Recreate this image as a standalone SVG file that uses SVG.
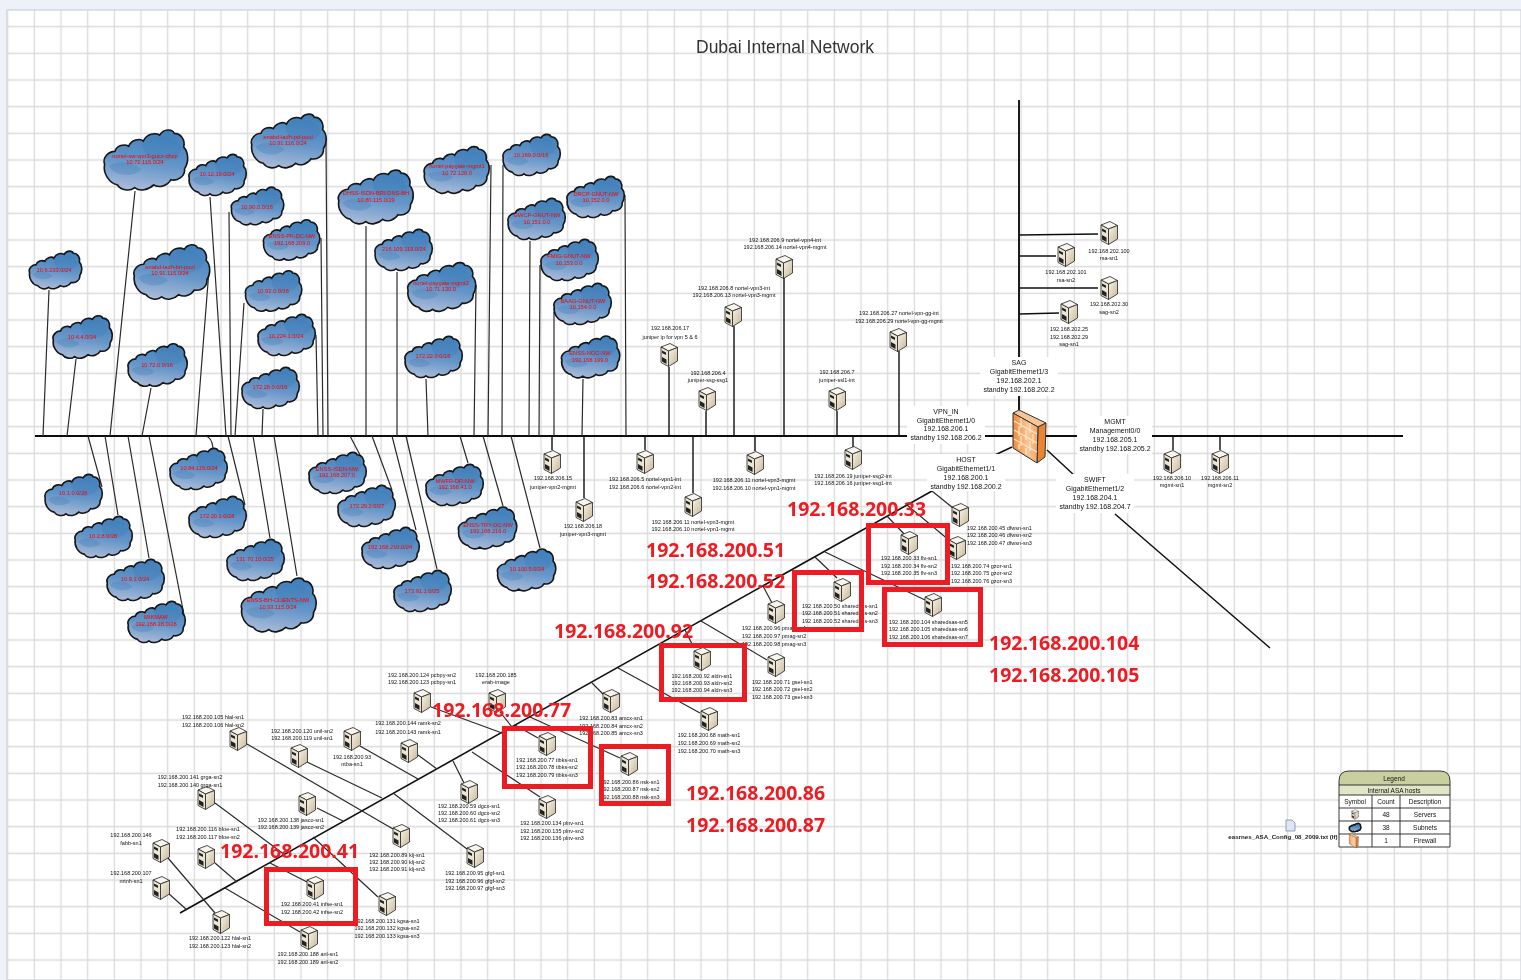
<svg xmlns="http://www.w3.org/2000/svg" width="1521" height="980" viewBox="0 0 1521 980">
<style>
text{font-family:"Liberation Sans",Arial,sans-serif}
.t{font-size:5.5px;fill:#111;text-anchor:middle}
.s{font-size:5.5px;fill:#111;text-anchor:start}
.c{font-size:5.7px;fill:#f00;text-anchor:middle}
.g{font-size:7px;fill:#111;text-anchor:middle}
.r{font-family:"Noto Sans","Open Sans",sans-serif;font-size:19.5px;font-weight:700;fill:#ed1c24}
.l{fill:none;stroke:#2b2b2b;stroke-width:1.2}
.b{fill:none;stroke:#111;stroke-width:1.9}
.x{fill:none;stroke:#ed1c24;stroke-width:5}
.w{fill:#fff}
.h{font-size:6.5px;fill:#111;text-anchor:middle}
.cl{fill:url(#cg);stroke:#151515;stroke-width:1.6;vector-effect:non-scaling-stroke}
</style>
<defs>
<pattern id="grid" x="-5.63" y="-13.33" width="26.667" height="26.667" patternUnits="userSpaceOnUse"><path d="M13.33 0V26.667M0 13.33H26.667" fill="none" stroke="#dadada" stroke-width="1.3"/></pattern>
<filter id="soft" x="0" y="0" width="100%" height="100%" filterUnits="userSpaceOnUse" primitiveUnits="userSpaceOnUse"><feGaussianBlur stdDeviation="0.38"/></filter>
<linearGradient id="cg" x1="0.6" y1="0" x2="0.4" y2="1"><stop offset="0" stop-color="#4080bb"/><stop offset="0.55" stop-color="#6596c9"/><stop offset="1" stop-color="#a8bad8"/></linearGradient>
<linearGradient id="sg" x1="0" y1="0" x2="1" y2="1"><stop offset="0" stop-color="#f8f3e8"/><stop offset="1" stop-color="#c6b798"/></linearGradient>
<linearGradient id="fg" x1="0" y1="0" x2="1" y2="0"><stop offset="0" stop-color="#f08a38"/><stop offset="0.6" stop-color="#f7c596"/><stop offset="1" stop-color="#f2a668"/></linearGradient>
<g id="c" transform="translate(-50,-37)">
<path class="cl" d="M3,42C0,34 8,27 15,27C17,20 26,18 31,21C34,14 44,11 48,15C52,6 62,5 67,8C72,0 82,1 84,6C92,6 97,14 95,22C101,28 101,40 96,47C97,56 88,62 80,60C76,67 66,70 60,66C54,72 44,74 38,69C32,74 22,72 18,66C8,64 1,52 3,42Z"/>
<path d="M48,16C54,8 80,4 92,22C94,36 70,42 56,36C50,30 46,24 48,16Z" fill="#3a7ab6" opacity=".3"/>
<path d="M8,44C20,36 38,40 46,48C36,58 14,56 8,44Z" fill="#3a7ab6" opacity=".3"/>
</g>
<g id="s">
<path d="M-8,-8L1,-11.5L8.5,-7.5L-0.5,-4Z" fill="#f8f5ec" stroke="#222" stroke-width=".8"/>
<path d="M-0.5,-4L8.5,-7.5V6L-0.5,11.5Z" fill="url(#sg)" stroke="#222" stroke-width=".8"/>
<path d="M-8,-8L-0.5,-4V11.5L-8,7.5Z" fill="#ece5d3" stroke="#222" stroke-width=".8"/>
<path d="M-7,-4.5L-3,-2.5V0L-7,-2ZM-7,2L-2.5,4.5V9L-7,6.5Z" fill="#222"/>
</g>
<g id="f">
<path d="M1013,413L1019,410L1046,423L1038,427Z" fill="#f7c596" stroke="#333"/>
<path d="M1038,427L1046,423L1045,457L1037,463Z" fill="#e88433" stroke="#333"/>
<path d="M1013,413L1038,427L1037,463L1013,448Z" fill="url(#fg)" stroke="#333"/>
<path d="M1014,421L1037,434M1014,430L1037,443M1014,439L1037,452M1021,418V428M1030,423V433M1019,426V436M1026,430V440M1033,434V444M1021,436V446M1030,441V451M1019,444V449M1026,448V455" fill="none" stroke="#fbe6cc" stroke-width="1.2"/>
</g>
</defs>
<g filter="url(#soft)">
<rect width="1521" height="980" fill="#eef1f8"/>
<rect x="7" y="10" width="1514" height="970" fill="#fff" stroke="#c4c8d0"/>
<rect x="7" y="10" width="1514" height="970" fill="url(#grid)"/>
<text x="785" y="53" font-size="17.5" fill="#333" text-anchor="middle">Dubai Internal Network</text>

<g id="connectors">
<path class="b" d="M35,436H1403"/>
<path class="b" d="M1019,100V410"/>
<path class="b" style="stroke-width:1.6" d="M180,913L932,491"/>
<path class="l" d="M49,290L43,436M76,359L67,436M135,191L110,436M151,388L142,436M209,270L196,436M210,197L226,436M229,212L231,436M326,140L328,436M321,238L323,436M244,303L235,436M316,335L318,436M263,409L262,436"/>
<path class="l" d="M366,226V436M491,165L488,436M397,272V436M476,285L474,436M426,379L428,436M503,165L502,436M530,241L529,436M625,195L626,436M540,265L539,436M554,312V436M583,379L582,436"/>
<path class="l" d="M88,436L102,487M105,436L118,515M128,436L149,558M149,436L185,620M196,436H205Q212,437 213,448M228,436L245,505M253,436L270,538M274,436L297,576"/>
<path class="l" d="M350,436L360,455M372,436L392,490M392,436L416,530M406,436L437,569M460,436L468,463M483,436L503,506M511,436L540,548"/>
<path class="b" style="stroke-width:1.4" d="M784,278V436M734,326V436M669,367V436M706,411V436M837,411V436M899,351V436M645,436V450M693,436V493M755,436V451M853,436V447M552,436V450M584,436V498M1019,235L1098,234M1019,256H1056M1019,288H1098M1019,314L1059,313M1173,436V450M1220,436V450"/>
<path class="b" style="stroke-width:1.5" d="M1012,447L995,455M1047,450L1075,476M1115,514L1270,648"/>
<path class="l" d="M932,491L953,508M907,505L950,541M887,516L905,535M815,557L837,578M825,552L925,600M763,586L772,603M701,621L767,660M685,630L692,644M618,668L700,713M592,683L604,695M431,707L502,733M500,712L512,727M530,717L620,758M515,725L538,738M472,752L540,797M453,761L464,783M418,755L437,769M360,746L418,779M307,762L382,798M247,744L393,829M393,793L467,849M313,837L378,897M317,808L343,821M215,803L285,855M215,863L237,882M168,858L215,913M168,893L187,910M270,863L307,882M225,888L300,932"/>
</g>

<g id="cloud-1"><use href="#c" transform="translate(55,270) scale(.54)"/><text class="c" x="54" y="272">10.6.233.0/24</text></g>
<g id="cloud-2"><use href="#c" transform="translate(82,337) scale(.61)"/><text class="c" x="82" y="339">10.4.4.0/24</text></g>
<g id="cloud-3"><use href="#c" transform="translate(145,160) scale(.86)"/><text class="c" x="145" y="158">nortel-sw-vpn3-gucz-dhcp</text><text class="c" x="145" y="164">10.72.115.0/24</text></g>
<g id="cloud-4"><use href="#c" transform="translate(157,365) scale(.61)"/><text class="c" x="157" y="367">10.72.0.0/16</text></g>
<g id="cloud-5"><use href="#c" transform="translate(171,272) scale(.78)"/><text class="c" x="170" y="269">enabd-ladh-bri-pool</text><text class="c" x="170" y="275">10.91.115.0/24</text></g>
<g id="cloud-6"><use href="#c" transform="translate(217,175) scale(.59)"/><text class="c" x="217" y="176">10.12.19.0/24</text></g>
<g id="cloud-7"><use href="#c" transform="translate(257,206) scale(.54)"/><text class="c" x="257" y="209">10.90.0.0/16</text></g>
<g id="cloud-8"><use href="#c" transform="translate(288,141) scale(.77)"/><text class="c" x="288" y="139">enabd-ladh-pd-pool</text><text class="c" x="288" y="145">10.91.116.0/24</text></g>
<g id="cloud-9"><use href="#c" transform="translate(291,240) scale(.58)"/><text class="c" x="292" y="238">ENSS-PK-DC-NW</text><text class="c" x="292" y="245">192.168.209.0</text></g>
<g id="cloud-10"><use href="#c" transform="translate(273,291) scale(.58)"/><text class="c" x="273" y="293">10.92.0.0/16</text></g>
<g id="cloud-11"><use href="#c" transform="translate(286,335) scale(.59)"/><text class="c" x="286" y="338">10.224.1.0/24</text></g>
<g id="cloud-12"><use href="#c" transform="translate(270,388) scale(.59)"/><text class="c" x="270" y="389">172.28.0.0/16</text></g>
<g id="cloud-13"><use href="#c" transform="translate(375,197) scale(.77)"/><text class="c" x="376" y="195">DHSS-ISDN-BRI-DNS-BH</text><text class="c" x="376" y="202">10.80.115.0/29</text></g>
<g id="cloud-14"><use href="#c" transform="translate(456,170) scale(.67)"/><text class="c" x="457" y="168">nortel-paygate-mgmt1</text><text class="c" x="457" y="175">10.72.128.0</text></g>
<g id="cloud-15"><use href="#c" transform="translate(403,250) scale(.59)"/><text class="c" x="404" y="251">216.109.119.0/24</text></g>
<g id="cloud-16"><use href="#c" transform="translate(441,287) scale(.7)"/><text class="c" x="441" y="285">nortel-paygate-mgmt2</text><text class="c" x="441" y="291">10.71.130.0</text></g>
<g id="cloud-17"><use href="#c" transform="translate(433,357) scale(.59)"/><text class="c" x="433" y="358">172.22.0.0/16</text></g>
<g id="cloud-18"><use href="#c" transform="translate(531,155) scale(.59)"/><text class="c" x="531" y="157">10.169.0.0/16</text></g>
<g id="cloud-19"><use href="#c" transform="translate(536,219) scale(.59)"/><text class="c" x="537" y="217">GWCP-GNUT-NW</text><text class="c" x="537" y="224">10.151.0.0</text></g>
<g id="cloud-20"><use href="#c" transform="translate(595,197) scale(.59)"/><text class="c" x="596" y="196">DRCP-GNUT-NW</text><text class="c" x="596" y="202">10.152.0.0</text></g>
<g id="cloud-21"><use href="#c" transform="translate(569,260) scale(.59)"/><text class="c" x="569" y="258">FMIG-GNUT-NW</text><text class="c" x="569" y="265">10.153.0.0</text></g>
<g id="cloud-22"><use href="#c" transform="translate(582,304) scale(.59)"/><text class="c" x="583" y="303">BAAG-GNUT-NW</text><text class="c" x="583" y="309">10.154.0.0</text></g>
<g id="cloud-23"><use href="#c" transform="translate(590,357) scale(.6)"/><text class="c" x="590" y="355">ENSS-NOC-NW</text><text class="c" x="590" y="362">192.168.199.0</text></g>
<g id="cloud-24"><use href="#c" transform="translate(73,495) scale(.59)"/><text class="c" x="73" y="495">10.1.0.0/28</text></g>
<g id="cloud-25"><use href="#c" transform="translate(103,537) scale(.59)"/><text class="c" x="103" y="538">10.2.8.0/28</text></g>
<g id="cloud-26"><use href="#c" transform="translate(135,580) scale(.59)"/><text class="c" x="135" y="581">10.9.3.0/24</text></g>
<g id="cloud-27"><use href="#c" transform="translate(156,622) scale(.59)"/><text class="c" x="156" y="619">MIKMAW</text><text class="c" x="156" y="626">192.168.38.0/28</text></g>
<g id="cloud-28"><use href="#c" transform="translate(198,469) scale(.59)"/><text class="c" x="199" y="470">10.84.115.0/24</text></g>
<g id="cloud-29"><use href="#c" transform="translate(217,517) scale(.59)"/><text class="c" x="217" y="518">172.20.1.0/28</text></g>
<g id="cloud-30"><use href="#c" transform="translate(255,560) scale(.59)"/><text class="c" x="255" y="561">131.70.10.0/25</text></g>
<g id="cloud-31"><use href="#c" transform="translate(278,605) scale(.77)"/><text class="c" x="278" y="602">ENSS-BH-CLIENTS-NW</text><text class="c" x="278" y="609">10.93.115.0/24</text></g>
<g id="cloud-32"><use href="#c" transform="translate(337,473) scale(.59)"/><text class="c" x="337" y="471">ENSS-ISDN-NW</text><text class="c" x="337" y="477">192.168.207.0</text></g>
<g id="cloud-33"><use href="#c" transform="translate(366,506) scale(.59)"/><text class="c" x="367" y="508">172.29.2.0/27</text></g>
<g id="cloud-34"><use href="#c" transform="translate(390,548) scale(.59)"/><text class="c" x="390" y="549">192.168.210.0/24</text></g>
<g id="cloud-35"><use href="#c" transform="translate(422,591) scale(.59)"/><text class="c" x="422" y="593">173.91.1.0/25</text></g>
<g id="cloud-36"><use href="#c" transform="translate(454,485) scale(.59)"/><text class="c" x="455" y="483">MWFR-DR-NW</text><text class="c" x="455" y="489">192.168.41.0</text></g>
<g id="cloud-37"><use href="#c" transform="translate(487,528) scale(.6)"/><text class="c" x="488" y="527">ENSS-TRY-DC-NW</text><text class="c" x="488" y="533">192.168.216.0</text></g>
<g id="cloud-38"><use href="#c" transform="translate(526,570) scale(.6)"/><text class="c" x="527" y="571">10.100.5.0/24</text></g>

<g id="srv-vpn4"><use href="#s" x="784" y="267"/><text class="t" x="785" y="242">192.168.206.9 nortel-vpn4-int</text><text class="t" x="785" y="249">192.168.206.14 nortel-vpn4-mgmt</text></g>
<g id="srv-vpn3"><use href="#s" x="733" y="315"/><text class="t" x="734" y="290">192.168.206.8 nortel-vpn3-int</text><text class="t" x="734" y="297">192.168.206.13 nortel-vpn3-mgmt</text></g>
<g id="srv-junip"><use href="#s" x="669" y="355"/><text class="t" x="670" y="330">192.168.206.17</text><text class="t" x="670" y="339">juniper ip for vpn 5 &amp; 6</text></g>
<g id="srv-ssg1"><use href="#s" x="707" y="399"/><text class="t" x="708" y="375">192.168.206.4</text><text class="t" x="708" y="382">juniper-ssg-ssg1</text></g>
<g id="srv-ssl"><use href="#s" x="837" y="399"/><text class="t" x="837" y="374">192.168.206.7</text><text class="t" x="837" y="382">juniper-ssl1-int</text></g>
<g id="srv-vpngg"><use href="#s" x="898" y="340"/><text class="t" x="899" y="315">192.168.206.27 nortel-vpn-gg-int</text><text class="t" x="899" y="323">192.168.206.29 nortel-vpn-gg-mgmt</text></g>
<g id="srv-vpn1"><use href="#s" x="645" y="462"/><text class="t" x="645" y="481">192.168.206.5 nortel-vpn1-int</text><text class="t" x="645" y="489">192.168.206.6 nortel-vpn2-int</text></g>
<g id="srv-vpn3m"><use href="#s" x="693" y="505"/><text class="t" x="693" y="524">192.168.206.11 nortel-vpn3-mgmt</text><text class="t" x="693" y="531">192.168.206.10 nortel-vpn1-mgmt</text></g>
<g id="srv-vpn2m"><use href="#s" x="755" y="463"/><text class="t" x="754" y="482">192.168.206.11 nortel-vpn3-mgmt</text><text class="t" x="754" y="490">192.168.206.10 nortel-vpn1-mgmt</text></g>
<g id="srv-ssg2"><use href="#s" x="853" y="458"/><text class="t" x="853" y="478">192.168.206.19 juniper-ssg2-int</text><text class="t" x="853" y="485">192.168.206.16 juniper-ssg1-int</text></g>
<g id="srv-jvpn2"><use href="#s" x="552" y="462"/><text class="t" x="553" y="480">192.168.206.15</text><text class="t" x="553" y="489">juniper-vpn2-mgmt</text></g>
<g id="srv-jvpn3"><use href="#s" x="584" y="510"/><text class="t" x="583" y="528">192.168.206.18</text><text class="t" x="583" y="536">juniper-vpn3-mgmt</text></g>
<g id="srv-rsa1"><use href="#s" x="1109" y="233"/><text class="t" x="1109" y="253">192.168.202.100</text><text class="t" x="1109" y="260">rsa-sn1</text></g>
<g id="srv-rsa2"><use href="#s" x="1066" y="255"/><text class="t" x="1066" y="274">192.168.202.101</text><text class="t" x="1066" y="282">rsa-sn2</text></g>
<g id="srv-sag2"><use href="#s" x="1109" y="288"/><text class="t" x="1109" y="306">192.168.202.30</text><text class="t" x="1109" y="314">sag-sn2</text></g>
<g id="srv-sag1"><use href="#s" x="1069" y="312"/><text class="t" x="1069" y="331">192.168.202.25</text><text class="t" x="1069" y="339">192.168.202.29</text><text class="t" x="1069" y="346">sag-sn1</text></g>
<g id="srv-mgmt1"><use href="#s" x="1172" y="462"/><text class="t" x="1172" y="480">192.168.206.10</text><text class="t" x="1172" y="487">mgmt-sn1</text></g>
<g id="srv-mgmt2"><use href="#s" x="1220" y="462"/><text class="t" x="1220" y="480">192.168.206.11</text><text class="t" x="1220" y="487">mgmt-sn2</text></g>

<g id="srv-dfw"><use href="#s" x="960" y="515"/><text class="s" x="967" y="530">192.168.200.45 dfwsn-sn1</text><text class="s" x="967" y="537">192.168.200.46 dfwsn-sn2</text><text class="s" x="967" y="545">192.168.200.47 dfwsn-sn3</text></g>
<g id="srv-gzor"><use href="#s" x="957" y="548"/><text class="s" x="951" y="568">192.168.200.74 gzor-sn1</text><text class="s" x="951" y="575">192.168.200.75 gzor-sn2</text><text class="s" x="951" y="583">192.168.200.76 gzor-sn3</text></g>
<g id="srv-flv"><use href="#s" x="909" y="543"/><text class="t" x="909" y="560">192.168.200.33 flv-sn1</text><text class="t" x="909" y="568">192.168.200.34 flv-sn2</text><text class="t" x="909" y="575">192.168.200.35 flv-sn3</text></g>
<g id="srv-shared1"><use href="#s" x="842" y="590"/><text class="s" x="802" y="608">192.168.200.50 sharedsas-sn1</text><text class="s" x="802" y="615">192.168.200.51 sharedsas-sn2</text><text class="s" x="802" y="623">192.168.200.52 sharedsas-sn3</text></g>
<g id="srv-shared5"><use href="#s" x="933" y="605"/><text class="s" x="889" y="624">192.168.200.104 sharedsas-sn5</text><text class="s" x="889" y="631">192.168.200.105 sharedsas-sn6</text><text class="s" x="889" y="639">192.168.200.106 sharedsas-sn7</text></g>
<g id="srv-pmag"><use href="#s" x="776" y="612"/><text class="s" x="742" y="630">192.168.200.96 pmag-sn1</text><text class="s" x="742" y="638">192.168.200.97 pmag-sn2</text><text class="s" x="742" y="646">192.168.200.98 pmag-sn3</text></g>
<g id="srv-gsel"><use href="#s" x="776" y="665"/><text class="s" x="752" y="684">192.168.200.71 gsel-sn1</text><text class="s" x="752" y="691">192.168.200.72 gsel-sn2</text><text class="s" x="752" y="699">192.168.200.73 gsel-sn3</text></g>
<g id="srv-aldn"><use href="#s" x="702" y="659"/><text class="t" x="702" y="678">192.168.200.92 aldn-sn1</text><text class="t" x="702" y="685">192.168.200.93 aldn-sn2</text><text class="t" x="702" y="692">192.168.200.94 aldn-sn3</text></g>
<g id="srv-math"><use href="#s" x="709" y="719"/><text class="t" x="709" y="737">192.168.200.68 math-sn1</text><text class="t" x="709" y="745">192.168.200.69 math-sn2</text><text class="t" x="709" y="753">192.168.200.70 math-sn3</text></g>
<g id="srv-amcx"><use href="#s" x="611" y="701"/><text class="t" x="611" y="720">192.168.200.83 amcx-sn1</text><text class="t" x="611" y="728">192.168.200.84 amcx-sn2</text><text class="t" x="611" y="735">192.168.200.85 amcx-sn3</text></g>
<g id="srv-pcbpy"><use href="#s" x="422" y="701"/><text class="t" x="422" y="677">192.168.200.124 pcbpy-sn2</text><text class="t" x="422" y="684">192.168.200.123 pcbpy-sn1</text></g>
<g id="srv-erab"><use href="#s" x="497" y="701"/><text class="t" x="496" y="677">192.168.200.185</text><text class="t" x="496" y="684">erab-image</text></g>
<g id="srv-tibks"><use href="#s" x="547" y="744"/><text class="t" x="547" y="762">192.168.200.77 tibks-sn1</text><text class="t" x="547" y="769">192.168.200.78 tibks-sn2</text><text class="t" x="547" y="777">192.168.200.79 tibks-sn3</text></g>
<g id="srv-nsk"><use href="#s" x="629" y="764"/><text class="t" x="630" y="784">192.168.200.86 nsk-sn1</text><text class="t" x="630" y="791">192.168.200.87 nsk-sn2</text><text class="t" x="630" y="799">192.168.200.88 nsk-sn3</text></g>
<g id="srv-plnv"><use href="#s" x="547" y="807"/><text class="t" x="552" y="825">192.168.200.134 plnv-sn1</text><text class="t" x="552" y="833">192.168.200.135 plnv-sn2</text><text class="t" x="552" y="840">192.168.200.136 plnv-sn3</text></g>
<g id="srv-dgcx"><use href="#s" x="469" y="792"/><text class="t" x="469" y="808">192.168.200.59 dgcx-sn1</text><text class="t" x="469" y="815">192.168.200.60 dgcx-sn2</text><text class="t" x="469" y="822">192.168.200.61 dgcx-sn3</text></g>
<g id="srv-ramk"><use href="#s" x="409" y="751"/><text class="t" x="408" y="725">192.168.200.144 ramk-sn2</text><text class="t" x="408" y="734">192.168.200.143 ramk-sn1</text></g>
<g id="srv-ntba"><use href="#s" x="352" y="739"/><text class="t" x="352" y="759">192.168.200.93</text><text class="t" x="352" y="766">ntba-sn1</text></g>
<g id="srv-unil"><use href="#s" x="299" y="756"/><text class="t" x="302" y="733">192.168.200.120 unil-sn2</text><text class="t" x="302" y="740">192.168.200.119 unil-sn1</text></g>
<g id="srv-hlal1"><use href="#s" x="238" y="739"/><text class="t" x="213" y="719">192.168.200.105 hlal-sn1</text><text class="t" x="213" y="727">192.168.200.106 hlal-sn2</text></g>
<g id="srv-klj"><use href="#s" x="401" y="836"/><text class="t" x="397" y="857">192.168.200.89 klj-sn1</text><text class="t" x="397" y="864">192.168.200.90 klj-sn2</text><text class="t" x="397" y="871">192.168.200.91 klj-sn3</text></g>
<g id="srv-gfgf"><use href="#s" x="475" y="856"/><text class="t" x="475" y="875">192.168.200.95 gfgf-sn1</text><text class="t" x="475" y="883">192.168.200.96 gfgf-sn2</text><text class="t" x="475" y="890">192.168.200.97 gfgf-sn3</text></g>
<g id="srv-kgsa"><use href="#s" x="387" y="904"/><text class="t" x="387" y="923">192.168.200.131 kgsa-sn1</text><text class="t" x="387" y="930">192.168.200.132 kgsa-sn2</text><text class="t" x="387" y="938">192.168.200.133 kgsa-sn3</text></g>
<g id="srv-jasco"><use href="#s" x="307" y="804"/><text class="t" x="291" y="822">192.168.200.138 jasco-sn1</text><text class="t" x="291" y="829">192.168.200.139 jasco-sn2</text></g>
<g id="srv-grga"><use href="#s" x="206" y="798"/><text class="t" x="190" y="779">192.168.200.141 grga-sn2</text><text class="t" x="190" y="787">192.168.200.140 grga-sn1</text></g>
<g id="srv-bfoe"><use href="#s" x="206" y="857"/><text class="t" x="208" y="831">192.168.200.116 bfoe-sn1</text><text class="t" x="208" y="838.5">192.168.200.117 bfoe-sn2</text></g>
<g id="srv-fabb"><use href="#s" x="161" y="851"/><text class="t" x="131" y="837">192.168.200.146</text><text class="t" x="131" y="845">fabb-sn1</text></g>
<g id="srv-nrtnh"><use href="#s" x="161" y="888"/><text class="t" x="131" y="875">192.168.200.107</text><text class="t" x="131" y="883">nrtnh-sn1</text></g>
<g id="srv-hlal2"><use href="#s" x="221" y="922"/><text class="t" x="220" y="940">192.168.200.122 hlal-sn1</text><text class="t" x="220" y="948">192.168.200.123 hlal-sn2</text></g>
<g id="srv-infse"><use href="#s" x="315" y="888"/><text class="t" x="312" y="906">192.168.200.41 infse-sn1</text><text class="t" x="312" y="914">192.168.200.42 infse-sn2</text></g>
<g id="srv-anl"><use href="#s" x="309" y="938"/><text class="t" x="308" y="956">192.168.200.188 anl-sn1</text><text class="t" x="308" y="964">192.168.200.189 anl-sn2</text></g>

<g id="firewall"><use href="#f"/></g>
<g id="if-sag"><rect class="w" x="980" y="357" width="78" height="39"/><text class="g" x="1019" y="365">SAG</text><text class="g" x="1019" y="374">GigabitEthernet1/3</text><text class="g" x="1019" y="383">192.168.202.1</text><text class="g" x="1019" y="392">standby 192.168.202.2</text></g>
<g id="if-vpn"><rect class="w" x="907" y="406" width="78" height="38"/><text class="g" x="946" y="414">VPN_IN</text><text class="g" x="946" y="423">GigabitEthernet1/0</text><text class="g" x="946" y="431">192.168.206.1</text><text class="g" x="946" y="440">standby 192.168.206.2</text></g>
<g id="if-host"><rect class="w" x="927" y="454" width="78" height="37"/><text class="g" x="966" y="462">HOST</text><text class="g" x="966" y="471">GigabitEthernet1/1</text><text class="g" x="966" y="480">192.168.200.1</text><text class="g" x="966" y="489">standby 192.168.200.2</text></g>
<g id="if-mgmt"><rect class="w" x="1077" y="416" width="75" height="38"/><text class="g" x="1115" y="424">MGMT</text><text class="g" x="1115" y="433">Management0/0</text><text class="g" x="1115" y="442">192.168.205.1</text><text class="g" x="1115" y="451">standby 192.168.205.2</text></g>
<g id="if-swift"><rect class="w" x="1056" y="474" width="78" height="39"/><text class="g" x="1095" y="482">SWIFT</text><text class="g" x="1095" y="491">GigabitEthernet1/2</text><text class="g" x="1095" y="500">192.168.204.1</text><text class="g" x="1095" y="509">standby 192.168.204.7</text></g>

<g id="highlights">
<rect class="x" x="868.5" y="525.5" width="79" height="57"/>
<rect class="x" x="884.5" y="589.5" width="96" height="55"/>
<rect class="x" x="794.5" y="572.5" width="67" height="57"/>
<rect class="x" x="661.5" y="645.5" width="83" height="54"/>
<rect class="x" x="504.5" y="728.5" width="86" height="58"/>
<rect class="x" x="601.5" y="746.5" width="67" height="57"/>
<rect class="x" x="266.5" y="869.5" width="89" height="54"/>
<text class="r" x="787" y="516">192.168.200.33</text>
<text class="r" x="646" y="557">192.168.200.51</text>
<text class="r" x="646" y="588">192.168.200.52</text>
<text class="r" x="554" y="638">192.168.200.92</text>
<text class="r" x="432" y="717">192.168.200.77</text>
<text class="r" x="220" y="857.5">192.168.200.41</text>
<text class="r" x="989" y="650">192.168.200.104</text>
<text class="r" x="989" y="682">192.168.200.105</text>
<text class="r" x="686" y="800">192.168.200.86</text>
<text class="r" x="686" y="832">192.168.200.87</text>
</g>

<g id="file-icon"><path d="M1286,820h6l3,3v8h-9Z" fill="#dfe6f2" stroke="#7a8aa8" stroke-width=".8"/><text x="1283" y="839" font-size="6.2" font-weight="700" fill="#222" text-anchor="middle">easrnes_ASA_Config_08_2009.txt (lf)</text></g>

<g id="legend">
<path d="M1339,795V781Q1339,771 1349,771H1440Q1450,771 1450,781V795Z" fill="#c9cf9f"/>
<rect x="1339" y="785" width="111" height="10" fill="#e2e6c8"/>
<rect x="1339" y="795" width="111" height="52" fill="#fff"/>
<path d="M1339,847V781Q1339,771 1349,771H1440Q1450,771 1450,781V847ZM1339,785H1450M1339,795H1450M1339,808H1450M1339,821H1450M1339,834H1450M1372,795V847M1400,795V847" fill="none" stroke="#222" stroke-width=".9"/>
<text class="h" x="1394" y="781">Legend</text><text class="h" x="1394" y="793">Internal ASA hosts</text>
<text class="h" x="1355" y="804">Symbol</text><text class="h" x="1386" y="804">Count</text><text class="h" x="1425" y="804">Description</text>
<text class="h" x="1386" y="817">48</text><text class="h" x="1425" y="817">Servers</text>
<text class="h" x="1386" y="830">38</text><text class="h" x="1425" y="830">Subnets</text>
<text class="h" x="1386" y="843">1</text><text class="h" x="1425" y="843">Firewall</text>
<use href="#s" transform="translate(1355,814.5) scale(.42)"/>
<use href="#c" transform="translate(1355,827.5) scale(.12)"/>
<use href="#f" transform="translate(1354,840.5) scale(.28) translate(-1030,-436)"/>
</g>
</g>
</svg>
